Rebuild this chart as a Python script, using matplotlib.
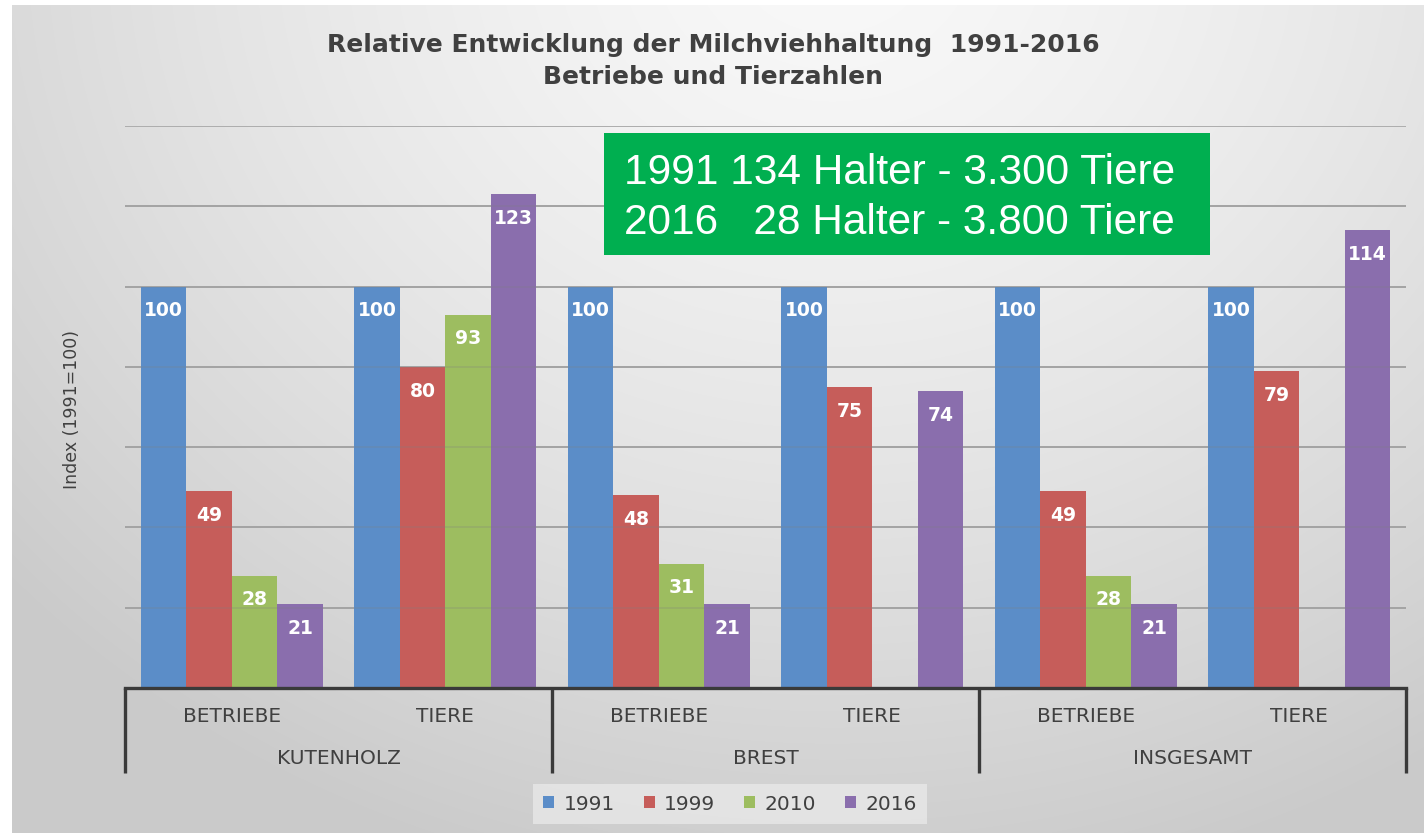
import numpy as np
import matplotlib
matplotlib.use("Agg")
import matplotlib.pyplot as plt
from matplotlib.patches import Patch, Rectangle

plt.rcParams['font.family'] = ['DejaVu Sans']

# ---- data ----
sub_labels = ["BETRIEBE", "TIERE", "BETRIEBE", "TIERE", "BETRIEBE", "TIERE"]
group_labels = ["KUTENHOLZ", "BREST", "INSGESAMT"]
series_names = ["1991", "1999", "2010", "2016"]
v1991 = [100, 100, 100, 100, 100, 100]
v1999 = [49, 80, 48, 75, 49, 79]
v2010 = [28, 93, 31, np.nan, 28, np.nan]
v2016 = [21, 123, 21, 74, 21, 114]
colors = ["#5B8DC8", "#C65D5A", "#9DBD60", "#8A6EAD"]

title = "Relative Entwicklung der Milchviehhaltung  1991-2016\nBetriebe und Tierzahlen"
ylabel = "Index (1991=100)"
box_text = "1991 134 Halter - 3.300 Tiere\n2016   28 Halter - 3.800 Tiere"

W, H = 1424, 833
fig = plt.figure(figsize=(W / 100, H / 100), dpi=100)
fig.patch.set_facecolor("white")

# background gradient
bg = fig.add_axes([12 / W, 0, 1 - 12 / W, 1 - 5 / H], zorder=-10)
yy, xx = np.mgrid[0:828, 0:1412]
r = np.sqrt(((xx - 820) / 1.0) ** 2 + ((yy + 60) * 1.15) ** 2)
val = 0.975 - 0.18 * np.clip(r / 1100, 0, 1) ** 1.4
img = np.dstack([val, val, val])
bg.imshow(img, aspect="auto", extent=[0, 1, 0, 1], origin="upper")
bg.set_axis_off()

# main axes
L, R, B, T = 125, 1406, 688, 126
ax = fig.add_axes([L / W, 1 - B / H, (R - L) / W, (B - T) / H])
ax.set_facecolor("none")
x = np.arange(len(sub_labels))
w = 0.213
all_vals = [v1991, v1999, v2010, v2016]
for i, (vals, c, name) in enumerate(zip(all_vals, colors, series_names)):
    pos = x + (i - 1.5) * w
    ax.bar(pos, vals, width=w, color=c, zorder=2, label=name, edgecolor="none")
    for p, v in zip(pos, vals):
        if np.isnan(v):
            continue
        ax.annotate(f"{v:.0f}", (p, v), xytext=(0, -17.5), textcoords="offset points",
                    ha="center", va="center", color="white", fontsize=13.5,
                    fontweight="bold", zorder=4)

ax.set_xlim(-0.5, len(sub_labels) - 0.5)
ax.set_ylim(0, 140)
ax.set_yticks([20, 40, 60, 80, 100, 120, 140])
ax.yaxis.grid(True, color="#adadad", linewidth=1.4, zorder=1)
for gy in [20, 40, 60, 80, 100, 120]:
    ax.axhline(gy, color="#808080", linewidth=1.4, alpha=0.22, zorder=3)
ax.set_axisbelow(True)
ax.tick_params(axis="both", length=0, labelleft=False, labelbottom=False)
for s in ["top", "right", "left"]:
    ax.spines[s].set_visible(False)
ax.spines["bottom"].set_color("#3a3a3a")
ax.spines["bottom"].set_linewidth(2.4)
ax.spines["bottom"].set_zorder(5)

# multi-level category axis
trans = ax.get_xaxis_transform()
depth = (773 - 688) / (B - T)
for xs in [-0.5, 1.5, 3.5, 5.5]:
    ax.plot([xs, xs], [0, -depth], transform=trans, color="#3a3a3a",
            linewidth=2.4, clip_on=False, solid_capstyle="butt")
for xi, lab in zip(x, sub_labels):
    ax.text(xi, -(717 - 688) / (B - T), lab, transform=trans, ha="center",
            va="center", fontsize=14.5, color="#404040")
for gi, lab in enumerate(group_labels):
    ax.text(2 * gi + 0.5, -(758 - 688) / (B - T), lab, transform=trans,
            ha="center", va="center", fontsize=14.5, color="#404040")

# title and y label
fig.text(713 / W, 1 - 61 / H, title, ha="center", va="center", fontsize=18,
         fontweight="bold", color="#404040", linespacing=1.37)
fig.text(72 / W, 1 - 410 / H, ylabel, rotation=90, ha="center", va="center",
         fontsize=12.5, color="#404040")

# green info box
fig.patches.append(Rectangle((604 / W, 1 - 255 / H), (1210 - 604) / W, (255 - 133) / H,
                             transform=fig.transFigure, facecolor="#00AF50",
                             edgecolor="none", zorder=6))
fig.text(624 / W, 1 - 198 / H, box_text, ha="left", va="center",
         fontsize=30.5, color="white", family=["Liberation Sans", "DejaVu Sans"],
         linespacing=1.3, zorder=7)

# legend
handles = [Patch(facecolor=c, edgecolor="none", label=n) for c, n in zip(colors, series_names)]
leg = fig.legend(handles=handles, loc="center", bbox_to_anchor=(730 / W, 1 - 804 / H),
                 ncol=4, fontsize=14.5, frameon=True, handlelength=0.55, handleheight=0.55,
                 handletextpad=0.45, columnspacing=1.45, borderpad=0.5, fancybox=False)
leg.get_frame().set_facecolor("#e8e8e8")
leg.get_frame().set_edgecolor("none")
leg.get_frame().set_alpha(0.8)
for t in leg.get_texts():
    t.set_color("#404040")

fig.savefig("out.png", dpi=100)
